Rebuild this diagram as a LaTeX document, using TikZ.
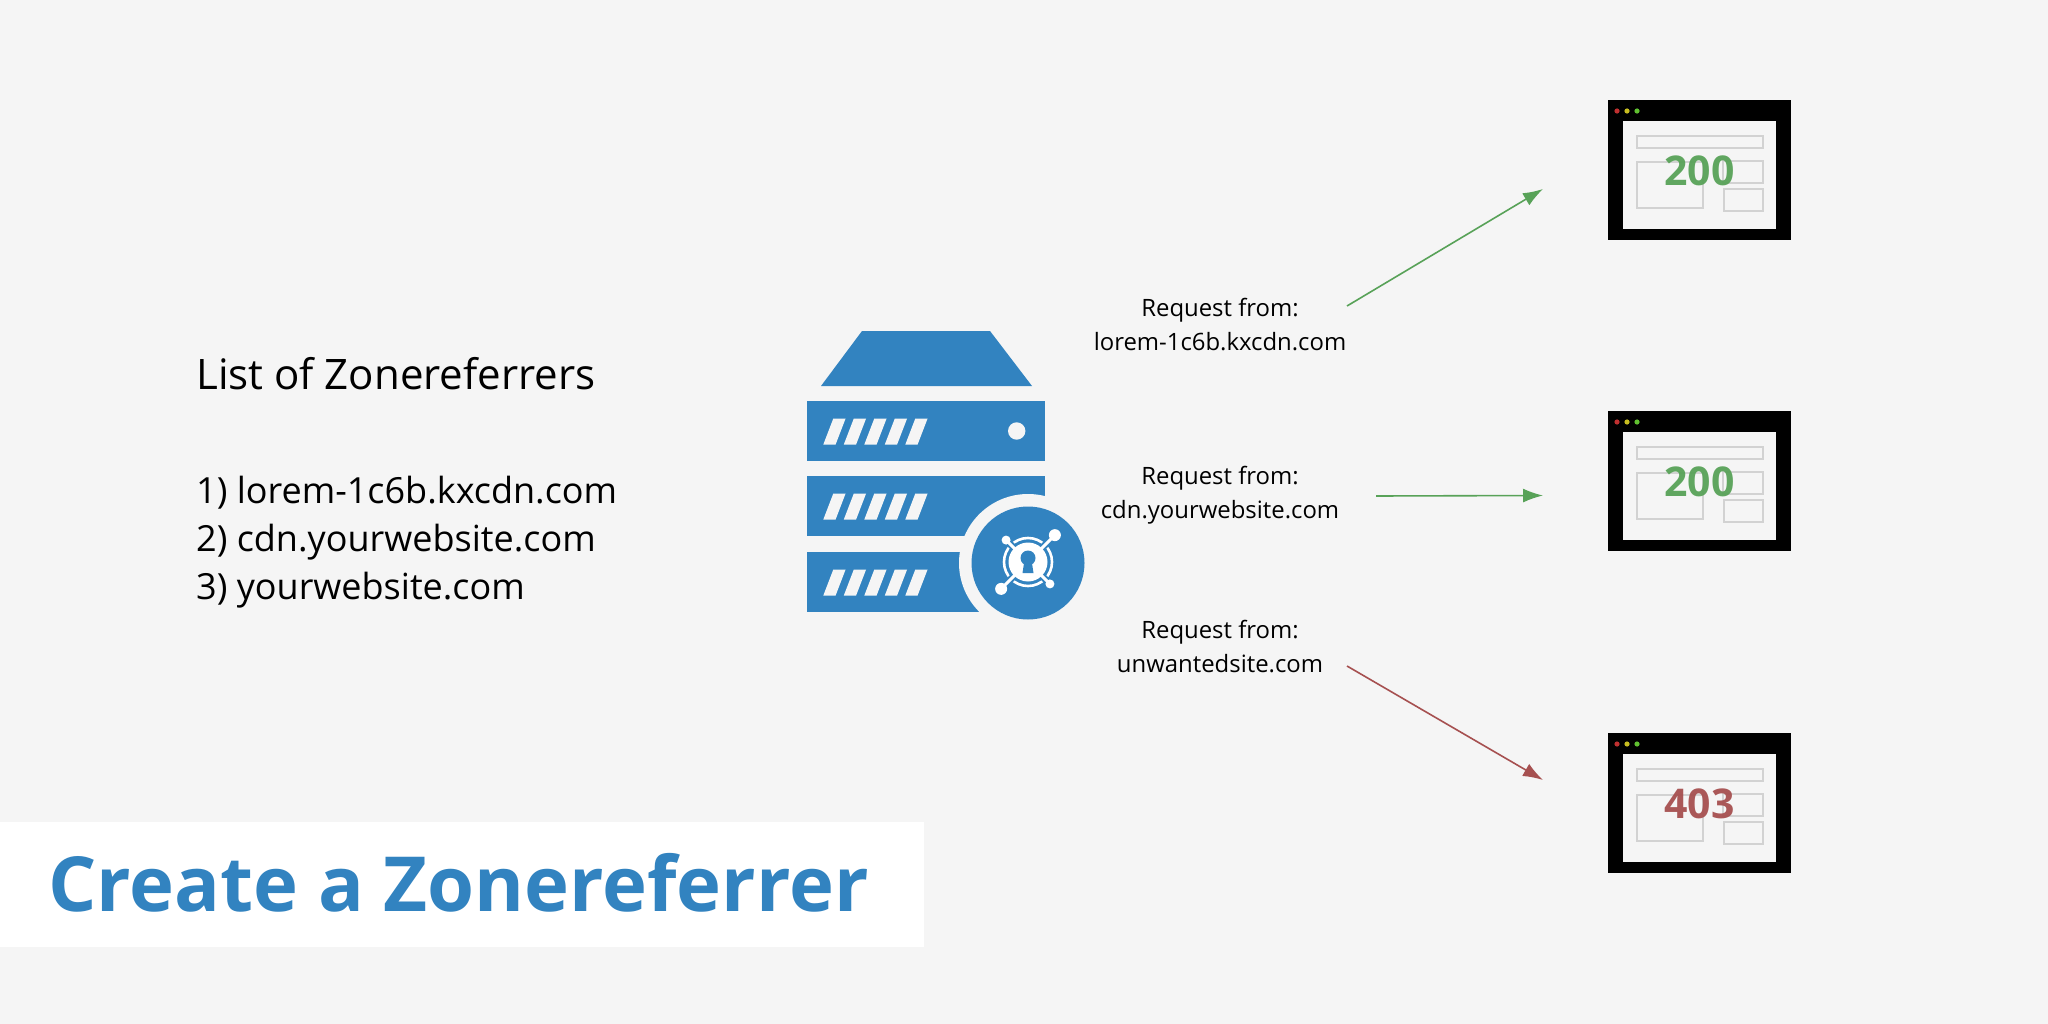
\documentclass[tikz,border=0pt]{standalone}
\usepackage{fontspec}
\setmainfont{Open Sans}
\usetikzlibrary{arrows.meta, positioning}

\definecolor{pagebg}{HTML}{F5F5F5}
\definecolor{zoneblue}{HTML}{3283C0}
\definecolor{okgreen}{HTML}{58A258}
\definecolor{denyred}{HTML}{A65050}
\definecolor{wirebox}{HTML}{D2D2D2}
\definecolor{dotred}{HTML}{C03030}
\definecolor{dotyellow}{HTML}{C8BE20}
\definecolor{dotgreen}{HTML}{60C030}

\begin{document}
\begin{tikzpicture}[
    x=1pt, y=-1pt,
    >=Latex, % Set default arrow tip style
    headtext/.style={anchor=base west, inner sep=0pt, font=\fontsize{42}{48}\selectfont}, % Style for the heading
    bigtext/.style={anchor=base west, inner sep=0pt, font=\fontsize{36}{48}\selectfont}, % Style for the list
    reqlabel/.style={align=center, inner sep=0pt, font=\fontsize{23.9}{34}\selectfont}, % Style for request labels
    okarrow/.style={-{Latex[length=20pt,width=14pt]}, okgreen, line width=1.6pt},
    denyarrow/.style={-{Latex[length=20pt,width=14pt]}, denyred, line width=1.6pt},
    browser/.style={fill=black, minimum width=183pt, minimum height=140pt, inner sep=0pt},
    wire/.style={draw=wirebox, line width=2.4pt},
    statuscode/.style={inner sep=0pt, opacity=0.95, font=\fontsize{41}{41}\selectfont\bfseries},
    slot/.style={fill=pagebg},
    keyline/.style={white, line width=3pt, line cap=round}
]

    % Page and title band
    \fill[pagebg] (0,0) rectangle (2048,1024);
    \fill[white] (0,822) rectangle (924,947);
    \node[anchor=base west, inner sep=0pt, text=zoneblue, font=\fontsize{76}{76}\selectfont\bfseries] (title) at (48,911) {Create a Zonereferrer};

    % List on the left
    \node[headtext] (listhead) at (196,389) {List of Zonereferrers};
    \node[bigtext] (lista) at (196,503) {1) lorem-1c6b.kxcdn.com};
    \node[bigtext] (listb) at (196,551.5) {2) cdn.yourwebsite.com};
    \node[bigtext] (listc) at (196,599.5) {3) yourwebsite.com};

    % Server stack
    \fill[zoneblue] (862,331) -- (990,331) -- (1032,386) -- (821,386) -- cycle;
    \foreach \bartop in {401,476,552} {
        \fill[zoneblue] (807,\bartop) rectangle (1045,\bartop+60);
        \foreach \i in {0,...,4} {
            \fill[slot] (823.3+\i*20.5,\bartop+43.5) -- ++(12.3,0) -- ++(10,-26) -- ++(-12.3,0) -- cycle;
        }
    }
    \fill[slot] (1016.7,431) circle (8.7);

    % Badge with the key symbol
    \def\bx{1028}
    \def\by{563}
    \fill[pagebg] (\bx,\by) circle (69);
    \fill[zoneblue] (\bx,\by) circle (56.5);
    \draw[white, line width=2.6pt] (\bx,\by-1) circle (24);
    \fill[white] (\bx,\by-1) circle (19.5);
    % y points down here, so 315 is the upper right arm
    \foreach \a/\r/\b in {315/38/6, 135/38/6, 225/31/4.5, 45/31/4.5} {
        \draw[zoneblue, line width=7pt] (\bx,\by-1) ++(\a:21) -- ++(\a:8);
        \draw[keyline] (\bx,\by-1) ++(\a:18) -- ++(\a:\r-18);
        \fill[white] (\bx,\by-1) ++(\a:\r) circle (\b);
    }
    % Keyhole
    \fill[zoneblue] (\bx,\by-5) circle (7.5);
    \fill[zoneblue] (\bx-3.5,\by-3) -- (\bx+3.5,\by-3) -- (\bx+5.5,\by+10) -- (\bx-5.5,\by+10) -- cycle;

    % Browser windows with their status
    \foreach \n/\off/\code/\col in {a/0/200/okgreen, b/311/200/okgreen, c/633/403/denyred} {
        \begin{scope}[shift={(0,\off)}]
            \node[browser] (browser\n) at (1699.5,170) {};
            \fill[pagebg] (1623,121) rectangle (1776,229);
            \fill[dotred] (1617,111) circle (2.6);
            \fill[dotyellow] (1627,111) circle (2.6);
            \fill[dotgreen] (1637,111) circle (2.6);
            \draw[wire] (1637,136) rectangle (1763,148);
            \draw[wire] (1637,162) rectangle (1703,208);
            \draw[wire] (1723,161) rectangle (1763,183);
            \draw[wire] (1724,189) rectangle (1763,211);
            \node[statuscode, text=\col] (status\n) at (1699.5,170.5) {\code};
        \end{scope}
    }

    % Request labels
    \node[reqlabel] (reqa) at (1220,324.5) {Request from:\\lorem-1c6b.kxcdn.com};
    \node[reqlabel] (reqb) at (1220,495.5) {Request from:\\cdn.yourwebsite.com};
    \node[reqlabel] (reqc) at (1220,646.5) {Request from:\\unwantedsite.com};

    % Arrow ends
    \coordinate (froma) at (1347,306);
    \coordinate (toa) at (1543,189);
    \coordinate (fromb) at (1376,496);
    \coordinate (tob) at (1543,495.5);
    \coordinate (fromc) at (1347,666);
    \coordinate (toc) at (1543,780);

    \draw[okarrow] (froma) -- (toa);
    \draw[okarrow] (fromb) -- (tob);
    \draw[denyarrow] (fromc) -- (toc);

\end{tikzpicture}
\end{document}
